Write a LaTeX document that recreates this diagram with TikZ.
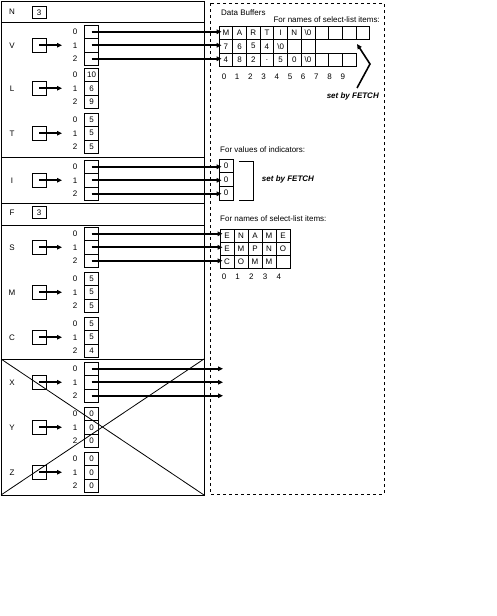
\documentclass[tikz,border=0pt]{standalone}
\usepackage{fontspec}
\setmainfont{Liberation Sans}
\usetikzlibrary{arrows.meta}
\newcommand\leftarr[3]{%
  \foreach \v [count=\i from 0] in {#3} {
    \node[cell] (a#1\i) at (91.5, {#2+6.75+13.5*\i}) {\v};
    \node[txt] (i#1\i) at (75, {#2+6.75+13.5*\i}) {\i};
  }
  \node[pbox] (p#1) at (39, {#2+20.25}) {};
  \coordinate (e#1) at (62, {#2+20.25});
  \draw[ptr] (p#1.center) -- (e#1);
  \node[txt] (l#1) at (12, {#2+20.25}) {#1};
}
\newcommand\bufrow[6]{%
  \foreach \v [count=\i from 0] in {#6} {
    \node[bcell, minimum width=#4, minimum height=#5] (#1\i) at ({#2+#4/2+#4*\i}, #3) {\v};
  }
}
\begin{document}
\begin{tikzpicture}[x=1pt,y=-1pt,
  txt/.style={font=\fontsize{8}{9}\selectfont, inner sep=0pt},
  cell/.style={txt, draw, line width=0.8pt, minimum width=13.3pt, minimum height=13.5pt},
  bcell/.style={txt, draw, line width=0.8pt},
  pbox/.style={draw, line width=0.8pt, minimum width=14pt, minimum height=14pt, inner sep=0pt},
  vbox/.style={txt, draw, line width=0.8pt, minimum width=14pt, minimum height=11.5pt},
  ptr/.style={line width=1.6pt, -{Triangle[length=5pt,width=4.5pt]}},
  frame/.style={line width=0.8pt},
  fetch/.style={font=\fontsize{8}{9}\selectfont\bfseries\itshape, inner sep=0pt}
]
\useasboundingbox (0,0) rectangle (496,616);

% left frame
\draw[frame] (1,1) rectangle (204,495);
\foreach \yy in {22,157,203,225,359} \draw[frame] (1,\yy) -- (204,\yy);
\draw[frame] (1,359) -- (204,495);
\draw[frame] (204,359) -- (1,495);

% N and F
\node[txt] (lN) at (12,12) {N};
\node[vbox] (vN) at (39,12.5) {3};
\node[txt] (lF) at (12,213) {F};
\node[vbox] (vF) at (39,212.5) {3};

% arrays
\leftarr{V}{25}{{},{},{}}
\leftarr{L}{68}{10,6,9}
\leftarr{T}{113}{5,5,5}
\leftarr{I}{160}{{},{},{}}
\leftarr{S}{227}{{},{},{}}
\leftarr{M}{272}{5,5,5}
\leftarr{C}{317}{5,5,4}
\leftarr{X}{362}{{},{},{}}
\leftarr{Y}{407}{0,0,0}
\leftarr{Z}{452}{0,0,0}

% dashed buffer area
\draw[line width=0.8pt, dash pattern=on 3pt off 3pt] (210,3) rectangle (384,494);

\node[txt, anchor=west] (tDB) at (221,13) {Data Buffers};
\node[txt, anchor=east] (tFN1) at (380,20) {For names of select-list items:};

\bufrow{bA}{219}{32.75}{13.7}{13.5}{M,A,R,T,I,N,\textbackslash0,{},{},{},{}}
\bufrow{bB}{219}{46.25}{13.7}{13.5}{7,6,5,4,\textbackslash0,{},{}}
\bufrow{bC}{219}{59.75}{13.7}{13.5}{4,8,2,.,5,0,\textbackslash0,{},{},{}}
\foreach \i in {0,...,9} \node[txt] (cb\i) at ({224+13.2*\i},77) {\i};

\coordinate (c1) at (357,88);
\coordinate (c2) at (370,64);
\coordinate (c3) at (357,44);
\draw[ptr] (c1) -- (c2) -- (c3);
\node[fetch, anchor=east] (f1) at (379,96) {set by FETCH};

% indicators
\node[txt, anchor=west] (tFV) at (220,150) {For values of indicators:};
\foreach \i in {0,1,2} \node[bcell, minimum width=14, minimum height=13.7] (ind\i) at (226,{165.8+13.7*\i}) {0};
\draw[frame] (239,161) -- (253,161) -- (253,200) -- (239,200);
\node[fetch] (f2) at (288,179) {set by FETCH};

% names of select-list items
\node[txt, anchor=west] (tFN2) at (220,219) {For names of select-list items:};
\bufrow{nA}{220}{235.6}{14}{13.3}{E,N,A,M,E}
\bufrow{nB}{220}{248.9}{14}{13.3}{E,M,P,N,O}
\bufrow{nC}{220}{262.2}{14}{13.3}{C,O,M,M,{}}
\foreach \i in {0,...,4} \node[txt] (cn\i) at ({224+13.7*\i},277) {\i};

% pointer arrows
\draw[ptr, shorten >=-3pt] (aV0.center) -- (aV0.center -| bA0.west);
\draw[ptr, shorten >=-3pt] (aV1.center) -- (aV1.center -| bB0.west);
\draw[ptr, shorten >=-3pt] (aV2.center) -- (aV2.center -| bC0.west);
\foreach \i in {0,1,2} {
  \draw[ptr, shorten >=-3pt] (aI\i.center) -- (aI\i.center -| ind\i.west);
}
\draw[ptr, shorten >=-3pt] (aS0.center) -- (aS0.center -| nA0.west);
\draw[ptr, shorten >=-3pt] (aS1.center) -- (aS1.center -| nB0.west);
\draw[ptr, shorten >=-3pt] (aS2.center) -- (aS2.center -| nC0.west);
\coordinate (xend) at (223,380);
\foreach \i in {0,1,2} {
  \draw[ptr] (aX\i.center) -- (aX\i.center -| xend);
}
\end{tikzpicture}
\end{document}
